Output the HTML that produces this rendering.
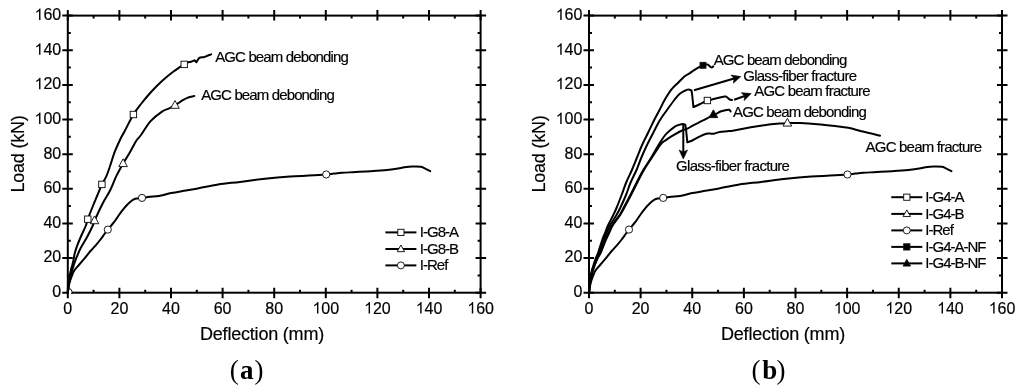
<!DOCTYPE html><html><head><meta charset="utf-8"><style>
html,body{margin:0;padding:0;background:#fff;}
svg{display:block;will-change:transform;}
text{font-family:"Liberation Sans",sans-serif;fill:#000;stroke:#000;stroke-width:0.18px;}
.tk{font-size:16px;}
.tt{font-size:18px;letter-spacing:-0.2px;}
.an{font-size:15px;letter-spacing:-0.87px;}
.gl{letter-spacing:-0.72px !important;}
.fr{letter-spacing:-0.8px !important;}
.lg{font-size:15px;letter-spacing:-1.0px;}
.pl{font-family:"Liberation Serif",serif;font-weight:bold;font-size:27px;stroke-width:0;}
</style></head><body>
<svg width="1024" height="392" viewBox="0 0 1024 392">
<rect width="1024" height="392" fill="#fff"/>
<rect x="67.8" y="15.6" width="412.8" height="277.1" fill="none" stroke="#000" stroke-width="2.0"/>
<path d="M67.8 287.7V298.2M67.8 10.1V20.6M93.6 289.7V292.7M93.6 15.6V18.6M119.4 287.7V298.2M119.4 10.1V20.6M145.2 289.7V292.7M145.2 15.6V18.6M171 287.7V298.2M171 10.1V20.6M196.8 289.7V292.7M196.8 15.6V18.6M222.6 287.7V298.2M222.6 10.1V20.6M248.4 289.7V292.7M248.4 15.6V18.6M274.2 287.7V298.2M274.2 10.1V20.6M300 289.7V292.7M300 15.6V18.6M325.8 287.7V298.2M325.8 10.1V20.6M351.6 289.7V292.7M351.6 15.6V18.6M377.4 287.7V298.2M377.4 10.1V20.6M403.2 289.7V292.7M403.2 15.6V18.6M429 287.7V298.2M429 10.1V20.6M454.8 289.7V292.7M454.8 15.6V18.6M480.6 287.7V298.2M480.6 10.1V20.6M62.3 292.7H72.8M475.6 292.7H486.1M67.8 275.38H70.8M477.6 275.38H480.6M62.3 258.06H72.8M475.6 258.06H486.1M67.8 240.74H70.8M477.6 240.74H480.6M62.3 223.43H72.8M475.6 223.43H486.1M67.8 206.11H70.8M477.6 206.11H480.6M62.3 188.79H72.8M475.6 188.79H486.1M67.8 171.47H70.8M477.6 171.47H480.6M62.3 154.15H72.8M475.6 154.15H486.1M67.8 136.83H70.8M477.6 136.83H480.6M62.3 119.51H72.8M475.6 119.51H486.1M67.8 102.19H70.8M477.6 102.19H480.6M62.3 84.88H72.8M475.6 84.88H486.1M67.8 67.56H70.8M477.6 67.56H480.6M62.3 50.24H72.8M475.6 50.24H486.1M67.8 32.92H70.8M477.6 32.92H480.6M62.3 15.6H72.8M475.6 15.6H486.1" stroke="#000" stroke-width="2.0" fill="none"/>
<text x="63.35" y="313.5" class="tk">0</text>
<text x="52.3" y="297.1" class="tk">0</text>
<text x="110.5" y="313.5" class="tk">2</text><text x="119.4" y="313.5" class="tk">0</text>
<text x="43.4" y="262.46" class="tk">2</text><text x="52.3" y="262.46" class="tk">0</text>
<text x="162.1" y="313.5" class="tk">4</text><text x="171" y="313.5" class="tk">0</text>
<text x="43.4" y="227.83" class="tk">4</text><text x="52.3" y="227.83" class="tk">0</text>
<text x="213.7" y="313.5" class="tk">6</text><text x="222.6" y="313.5" class="tk">0</text>
<text x="43.4" y="193.19" class="tk">6</text><text x="52.3" y="193.19" class="tk">0</text>
<text x="265.3" y="313.5" class="tk">8</text><text x="274.2" y="313.5" class="tk">0</text>
<text x="43.4" y="158.55" class="tk">8</text><text x="52.3" y="158.55" class="tk">0</text>
<path d="M763 0H583V1147Q518 1085 412.5 1023T223 930V1104Q374 1175 487 1276T647 1472H763V0Z" transform="translate(312.45 313.5) scale(0.007812 -0.007812)"/><text x="321.35" y="313.5" class="tk">0</text><text x="330.25" y="313.5" class="tk">0</text>
<path d="M763 0H583V1147Q518 1085 412.5 1023T223 930V1104Q374 1175 487 1276T647 1472H763V0Z" transform="translate(34.5 123.91) scale(0.007812 -0.007812)"/><text x="43.4" y="123.91" class="tk">0</text><text x="52.3" y="123.91" class="tk">0</text>
<path d="M763 0H583V1147Q518 1085 412.5 1023T223 930V1104Q374 1175 487 1276T647 1472H763V0Z" transform="translate(364.05 313.5) scale(0.007812 -0.007812)"/><text x="372.95" y="313.5" class="tk">2</text><text x="381.85" y="313.5" class="tk">0</text>
<path d="M763 0H583V1147Q518 1085 412.5 1023T223 930V1104Q374 1175 487 1276T647 1472H763V0Z" transform="translate(34.5 89.28) scale(0.007812 -0.007812)"/><text x="43.4" y="89.28" class="tk">2</text><text x="52.3" y="89.28" class="tk">0</text>
<path d="M763 0H583V1147Q518 1085 412.5 1023T223 930V1104Q374 1175 487 1276T647 1472H763V0Z" transform="translate(415.65 313.5) scale(0.007812 -0.007812)"/><text x="424.55" y="313.5" class="tk">4</text><text x="433.45" y="313.5" class="tk">0</text>
<path d="M763 0H583V1147Q518 1085 412.5 1023T223 930V1104Q374 1175 487 1276T647 1472H763V0Z" transform="translate(34.5 54.64) scale(0.007812 -0.007812)"/><text x="43.4" y="54.64" class="tk">4</text><text x="52.3" y="54.64" class="tk">0</text>
<path d="M763 0H583V1147Q518 1085 412.5 1023T223 930V1104Q374 1175 487 1276T647 1472H763V0Z" transform="translate(467.25 313.5) scale(0.007812 -0.007812)"/><text x="476.15" y="313.5" class="tk">6</text><text x="485.05" y="313.5" class="tk">0</text>
<path d="M763 0H583V1147Q518 1085 412.5 1023T223 930V1104Q374 1175 487 1276T647 1472H763V0Z" transform="translate(34.5 20) scale(0.007812 -0.007812)"/><text x="43.4" y="20" class="tk">6</text><text x="52.3" y="20" class="tk">0</text>
<clipPath id="ca"><rect x="68.6" y="15" width="412" height="278.9"/></clipPath>
<g clip-path="url(#ca)"><circle cx="68.6" cy="292" r="3.5" fill="#fff" stroke="#111" stroke-width="0.95"/></g>
<path d="M67.8 292.7C67.93 291.75 68.32 288.62 68.6 287C68.88 285.38 69.12 284.42 69.5 283C69.88 281.58 70.45 279.8 70.9 278.5C71.35 277.2 71.65 276.52 72.2 275.2C72.75 273.88 73.02 272.38 74.2 270.6C75.38 268.82 77.43 266.72 79.3 264.5C81.17 262.28 83.53 259.55 85.4 257.3C87.27 255.05 88.82 252.95 90.5 251C92.18 249.05 93.9 247.43 95.5 245.6C97.1 243.77 98.6 241.93 100.1 240C101.6 238.07 103.22 235.73 104.5 234C105.78 232.27 106.18 231.62 107.8 229.6C109.42 227.58 112.33 224.33 114.2 221.9C116.07 219.47 117.3 217.33 119 215C120.7 212.67 122.73 209.9 124.4 207.9C126.07 205.9 127.52 204.38 129 203C130.48 201.62 132.05 200.35 133.3 199.6C134.55 198.85 135.05 198.78 136.5 198.5C137.95 198.22 139.75 198.18 142 197.9C144.25 197.62 147.21 197.12 150 196.8C152.79 196.48 155.21 196.62 158.75 196C162.29 195.38 167.04 193.97 171.25 193.1C175.46 192.23 179.57 191.58 184 190.8C188.43 190.02 192.12 189.45 197.8 188.4C203.48 187.35 211.07 185.58 218.1 184.5C225.13 183.42 232.18 182.86 240 181.9C247.82 180.94 256.67 179.65 265 178.75C273.33 177.85 282.71 177.03 290 176.5C297.29 175.97 302.71 175.93 308.75 175.6C314.79 175.27 322.04 174.83 326.25 174.5C330.46 174.17 331.34 173.88 334 173.6C336.66 173.32 339.12 173.03 342.2 172.8C345.28 172.57 348.58 172.42 352.5 172.2C356.42 171.98 361.78 171.73 365.7 171.5C369.62 171.27 372.1 171.1 376 170.8C379.9 170.5 385.43 170.08 389.1 169.7C392.77 169.32 395.45 168.9 398 168.5C400.55 168.1 401.97 167.62 404.4 167.3C406.83 166.98 409.87 166.68 412.6 166.6C415.33 166.52 418.85 166.55 420.8 166.8C422.75 167.05 422.73 167.37 424.3 168.1C425.87 168.83 429.22 170.68 430.2 171.2" fill="none" stroke="#000" stroke-width="2.0" stroke-linejoin="round" stroke-linecap="round"/>
<path d="M67.8 292.7C67.92 291.75 68.25 288.78 68.5 287C68.75 285.22 68.95 283.83 69.3 282C69.65 280.17 70.12 278 70.6 276C71.08 274 71.67 271.83 72.2 270C72.73 268.17 73.3 266.5 73.8 265C74.3 263.5 74.67 262.45 75.2 261C75.73 259.55 76.08 258.47 77 256.3C77.92 254.13 79.02 251.22 80.7 248C82.38 244.78 85.12 240.67 87.1 237C89.08 233.33 91.37 228.67 92.6 226C93.83 223.33 93.52 223.33 94.5 221C95.48 218.67 96.92 215.33 98.5 212C100.08 208.67 102.03 204.67 104 201C105.97 197.33 108.23 194.18 110.3 190C112.37 185.82 114.28 180.28 116.4 175.9C118.52 171.52 120.82 167.52 123 163.7C125.18 159.88 127.28 156.83 129.5 153C131.72 149.17 134.38 143.7 136.3 140.7C138.22 137.7 138.62 138.25 141 135C143.38 131.75 147.1 125.1 150.6 121.2C154.1 117.3 158.82 113.77 162 111.6C165.18 109.43 167.53 109.27 169.7 108.2C171.87 107.13 173.62 106 175 105.2C176.38 104.4 176.7 104.23 178 103.4C179.3 102.57 181.15 101.17 182.8 100.2C184.45 99.23 186.52 98.17 187.9 97.6C189.28 97.03 190.03 97.07 191.1 96.8C192.17 96.53 193.77 96.13 194.3 96" fill="none" stroke="#000" stroke-width="2.0" stroke-linejoin="round" stroke-linecap="round"/>
<path d="M67.8 292.7C67.88 291.75 68.13 288.78 68.3 287C68.47 285.22 68.57 283.83 68.8 282C69.03 280.17 69.35 278 69.7 276C70.05 274 70.47 271.83 70.9 270C71.33 268.17 71.87 266.67 72.3 265C72.73 263.33 73.1 261.92 73.5 260C73.9 258.08 74.12 255.8 74.7 253.5C75.28 251.2 76 248.95 77 246.2C78 243.45 79.25 240.37 80.7 237C82.15 233.63 84.52 228.97 85.7 226C86.88 223.03 86.67 222.37 87.8 219.2C88.93 216.03 90.88 211.03 92.5 207C94.12 202.97 95.93 198.77 97.5 195C99.07 191.23 100.4 187.58 101.9 184.4C103.4 181.22 105.1 179.1 106.5 175.9C107.9 172.7 108.9 169.28 110.3 165.2C111.7 161.12 113.23 155.73 114.9 151.4C116.57 147.07 118.7 142.52 120.3 139.2C121.9 135.88 122.32 135.62 124.5 131.5C126.68 127.38 130.65 119.08 133.4 114.5C136.15 109.92 138.13 107.67 141 104C143.87 100.33 147.1 96.33 150.6 92.5C154.1 88.67 158.18 84.5 162 81C165.82 77.5 169.8 74.27 173.5 71.5C177.2 68.73 181.77 65.95 184.2 64.4C186.63 62.85 186.98 62.63 188.1 62.2C189.22 61.77 189.83 62.12 190.9 61.8C191.97 61.48 193.9 60.55 194.5 60.3C194.82 60.62 196.08 61.88 196.4 62.2C196.9 61.47 198.18 58.63 199.4 57.8C200.62 56.97 202.37 57.55 203.7 57.2C205.03 56.85 206.17 56.17 207.4 55.7C208.63 55.23 210.48 54.62 211.1 54.4" fill="none" stroke="#000" stroke-width="2.0" stroke-linejoin="round" stroke-linecap="round"/>
<circle cx="107.8" cy="229.6" r="3.6" fill="#fff" stroke="#111" stroke-width="0.95"/>
<circle cx="142" cy="197.9" r="3.6" fill="#fff" stroke="#111" stroke-width="0.95"/>
<circle cx="326.25" cy="174.5" r="3.6" fill="#fff" stroke="#111" stroke-width="0.95"/>
<path d="M94.5 215.96L98.8 223.7L90.2 223.7Z" fill="#fff" stroke="#111" stroke-width="0.95"/>
<path d="M123.1 158.86L127.4 166.6L118.8 166.6Z" fill="#fff" stroke="#111" stroke-width="0.95"/>
<path d="M175 100.56L179.3 108.3L170.7 108.3Z" fill="#fff" stroke="#111" stroke-width="0.95"/>
<rect x="84.6" y="216" width="6.4" height="6.4" fill="#fff" stroke="#111" stroke-width="0.95"/>
<rect x="98.7" y="181.2" width="6.4" height="6.4" fill="#fff" stroke="#111" stroke-width="0.95"/>
<rect x="130.2" y="111.3" width="6.4" height="6.4" fill="#fff" stroke="#111" stroke-width="0.95"/>
<rect x="181" y="61.2" width="6.4" height="6.4" fill="#fff" stroke="#111" stroke-width="0.95"/>
<text x="215.2" y="61.8" class="an">AGC beam debonding</text>
<text x="201.2" y="100.1" class="an">AGC beam debonding</text>
<path d="M385.4 232.4H416.4" stroke="#000" stroke-width="2"/><rect x="397.8" y="229.3" width="6.2" height="6.2" fill="#fff" stroke="#111" stroke-width="0.95"/><text x="419.8" y="237.2" class="lg">I-G8-A</text>
<path d="M385.4 249H416.4" stroke="#000" stroke-width="2"/><path d="M400.9 245L404.6 251.66L397.2 251.66Z" fill="#fff" stroke="#111" stroke-width="0.95"/><text x="419.8" y="253.8" class="lg">I-G8-B</text>
<path d="M385.4 265.4H416.4" stroke="#000" stroke-width="2"/><circle cx="400.9" cy="265.4" r="3.5" fill="#fff" stroke="#111" stroke-width="0.95"/><text x="419.8" y="270.2" class="lg">I-Ref</text>
<text x="24" y="154" text-anchor="middle" class="tt" transform="rotate(-90 24 154)" dy="0">Load (kN)</text>
<text x="262" y="340.1" text-anchor="middle" class="tt">Deflection (mm)</text>
<text y="379" class="pl"><tspan x="229.7" font-weight="normal">(</tspan><tspan x="239.9">a</tspan><tspan x="254.4" font-weight="normal">)</tspan></text>
<rect x="589" y="15.6" width="413" height="277.1" fill="none" stroke="#000" stroke-width="2.0"/>
<path d="M589 287.7V298.2M589 10.1V20.6M614.81 289.7V292.7M614.81 15.6V18.6M640.62 287.7V298.2M640.62 10.1V20.6M666.44 289.7V292.7M666.44 15.6V18.6M692.25 287.7V298.2M692.25 10.1V20.6M718.06 289.7V292.7M718.06 15.6V18.6M743.88 287.7V298.2M743.88 10.1V20.6M769.69 289.7V292.7M769.69 15.6V18.6M795.5 287.7V298.2M795.5 10.1V20.6M821.31 289.7V292.7M821.31 15.6V18.6M847.12 287.7V298.2M847.12 10.1V20.6M872.94 289.7V292.7M872.94 15.6V18.6M898.75 287.7V298.2M898.75 10.1V20.6M924.56 289.7V292.7M924.56 15.6V18.6M950.38 287.7V298.2M950.38 10.1V20.6M976.19 289.7V292.7M976.19 15.6V18.6M1002 287.7V298.2M1002 10.1V20.6M583.5 292.7H594M997 292.7H1007.5M589 275.38H592M999 275.38H1002M583.5 258.06H594M997 258.06H1007.5M589 240.74H592M999 240.74H1002M583.5 223.43H594M997 223.43H1007.5M589 206.11H592M999 206.11H1002M583.5 188.79H594M997 188.79H1007.5M589 171.47H592M999 171.47H1002M583.5 154.15H594M997 154.15H1007.5M589 136.83H592M999 136.83H1002M583.5 119.51H594M997 119.51H1007.5M589 102.19H592M999 102.19H1002M583.5 84.88H594M997 84.88H1007.5M589 67.56H592M999 67.56H1002M583.5 50.24H594M997 50.24H1007.5M589 32.92H592M999 32.92H1002M583.5 15.6H594M997 15.6H1007.5" stroke="#000" stroke-width="2.0" fill="none"/>
<text x="584.55" y="313.5" class="tk">0</text>
<text x="573.5" y="297.1" class="tk">0</text>
<text x="631.73" y="313.5" class="tk">2</text><text x="640.62" y="313.5" class="tk">0</text>
<text x="564.6" y="262.46" class="tk">2</text><text x="573.5" y="262.46" class="tk">0</text>
<text x="683.35" y="313.5" class="tk">4</text><text x="692.25" y="313.5" class="tk">0</text>
<text x="564.6" y="227.83" class="tk">4</text><text x="573.5" y="227.83" class="tk">0</text>
<text x="734.98" y="313.5" class="tk">6</text><text x="743.88" y="313.5" class="tk">0</text>
<text x="564.6" y="193.19" class="tk">6</text><text x="573.5" y="193.19" class="tk">0</text>
<text x="786.6" y="313.5" class="tk">8</text><text x="795.5" y="313.5" class="tk">0</text>
<text x="564.6" y="158.55" class="tk">8</text><text x="573.5" y="158.55" class="tk">0</text>
<path d="M763 0H583V1147Q518 1085 412.5 1023T223 930V1104Q374 1175 487 1276T647 1472H763V0Z" transform="translate(833.78 313.5) scale(0.007812 -0.007812)"/><text x="842.68" y="313.5" class="tk">0</text><text x="851.57" y="313.5" class="tk">0</text>
<path d="M763 0H583V1147Q518 1085 412.5 1023T223 930V1104Q374 1175 487 1276T647 1472H763V0Z" transform="translate(555.7 123.91) scale(0.007812 -0.007812)"/><text x="564.6" y="123.91" class="tk">0</text><text x="573.5" y="123.91" class="tk">0</text>
<path d="M763 0H583V1147Q518 1085 412.5 1023T223 930V1104Q374 1175 487 1276T647 1472H763V0Z" transform="translate(885.4 313.5) scale(0.007812 -0.007812)"/><text x="894.3" y="313.5" class="tk">2</text><text x="903.2" y="313.5" class="tk">0</text>
<path d="M763 0H583V1147Q518 1085 412.5 1023T223 930V1104Q374 1175 487 1276T647 1472H763V0Z" transform="translate(555.7 89.28) scale(0.007812 -0.007812)"/><text x="564.6" y="89.28" class="tk">2</text><text x="573.5" y="89.28" class="tk">0</text>
<path d="M763 0H583V1147Q518 1085 412.5 1023T223 930V1104Q374 1175 487 1276T647 1472H763V0Z" transform="translate(937.03 313.5) scale(0.007812 -0.007812)"/><text x="945.93" y="313.5" class="tk">4</text><text x="954.82" y="313.5" class="tk">0</text>
<path d="M763 0H583V1147Q518 1085 412.5 1023T223 930V1104Q374 1175 487 1276T647 1472H763V0Z" transform="translate(555.7 54.64) scale(0.007812 -0.007812)"/><text x="564.6" y="54.64" class="tk">4</text><text x="573.5" y="54.64" class="tk">0</text>
<path d="M763 0H583V1147Q518 1085 412.5 1023T223 930V1104Q374 1175 487 1276T647 1472H763V0Z" transform="translate(988.65 313.5) scale(0.007812 -0.007812)"/><text x="997.55" y="313.5" class="tk">6</text><text x="1006.45" y="313.5" class="tk">0</text>
<path d="M763 0H583V1147Q518 1085 412.5 1023T223 930V1104Q374 1175 487 1276T647 1472H763V0Z" transform="translate(555.7 20) scale(0.007812 -0.007812)"/><text x="564.6" y="20" class="tk">6</text><text x="573.5" y="20" class="tk">0</text>
<clipPath id="cb"><rect x="589.8" y="15" width="412" height="278.9"/></clipPath>
<path d="M589 292.7C589.13 291.75 589.52 288.62 589.8 287C590.08 285.38 590.32 284.42 590.7 283C591.08 281.58 591.65 279.8 592.1 278.5C592.55 277.2 592.85 276.52 593.4 275.2C593.95 273.88 594.22 272.38 595.4 270.6C596.58 268.82 598.63 266.72 600.5 264.5C602.37 262.28 604.73 259.55 606.6 257.3C608.47 255.05 610.02 252.95 611.7 251C613.38 249.05 615.1 247.43 616.7 245.6C618.3 243.77 619.8 241.93 621.3 240C622.8 238.07 624.42 235.73 625.7 234C626.98 232.27 627.38 231.62 629 229.6C630.62 227.58 633.53 224.33 635.4 221.9C637.27 219.47 638.5 217.33 640.2 215C641.9 212.67 643.93 209.9 645.6 207.9C647.27 205.9 648.72 204.38 650.2 203C651.68 201.62 653.25 200.35 654.5 199.6C655.75 198.85 656.25 198.78 657.7 198.5C659.15 198.22 660.95 198.18 663.2 197.9C665.45 197.62 668.41 197.12 671.2 196.8C673.99 196.48 676.41 196.62 679.95 196C683.49 195.38 688.24 193.97 692.45 193.1C696.66 192.23 700.78 191.58 705.2 190.8C709.62 190.02 713.32 189.45 719 188.4C724.68 187.35 732.27 185.58 739.3 184.5C746.33 183.42 753.38 182.86 761.2 181.9C769.02 180.94 777.87 179.65 786.2 178.75C794.53 177.85 803.91 177.03 811.2 176.5C818.49 175.97 823.91 175.93 829.95 175.6C835.99 175.27 843.24 174.83 847.45 174.5C851.66 174.17 852.54 173.88 855.2 173.6C857.86 173.32 860.32 173.03 863.4 172.8C866.48 172.57 869.78 172.42 873.7 172.2C877.62 171.98 882.98 171.73 886.9 171.5C890.82 171.27 893.3 171.1 897.2 170.8C901.1 170.5 906.63 170.08 910.3 169.7C913.97 169.32 916.65 168.9 919.2 168.5C921.75 168.1 923.17 167.62 925.6 167.3C928.03 166.98 931.07 166.68 933.8 166.6C936.53 166.52 940.05 166.55 942 166.8C943.95 167.05 943.93 167.37 945.5 168.1C947.07 168.83 950.42 170.68 951.4 171.2" fill="none" stroke="#000" stroke-width="2.0" stroke-linejoin="round" stroke-linecap="round"/>
<path d="M589 292.7C589.08 291.75 589.28 288.95 589.5 287C589.72 285.05 589.97 283 590.3 281C590.63 279 591.08 276.83 591.5 275C591.92 273.17 592.32 271.58 592.8 270C593.28 268.42 593.7 267.33 594.4 265.5C595.1 263.67 595.98 261.17 597 259C598.02 256.83 599.13 255.67 600.5 252.5C601.87 249.33 603.87 243.25 605.2 240C606.53 236.75 607.32 235.5 608.5 233C609.68 230.5 610.45 228 612.3 225C614.15 222 617.73 217.83 619.6 215C621.47 212.17 621.7 211.33 623.5 208C625.3 204.67 628.2 199.25 630.4 195C632.6 190.75 634.55 186.67 636.7 182.5C638.85 178.33 640.87 174.17 643.3 170C645.73 165.83 648.77 161.67 651.3 157.5C653.83 153.33 656.18 148.75 658.5 145C660.82 141.25 663.2 137.5 665.2 135C667.2 132.5 668.88 131.4 670.5 130C672.12 128.6 673.65 127.4 674.9 126.6C676.15 125.8 677.08 125.55 678 125.2C678.92 124.85 679.55 124.72 680.4 124.5C681.25 124.28 682.28 123.83 683.1 123.9C683.92 123.97 684.93 124.73 685.3 124.9C685.45 125.92 685.87 128.1 686.2 131C686.53 133.9 687.12 140.42 687.3 142.3C688.13 142 690.18 141.5 692.3 140.5C694.42 139.5 697.67 137.42 700 136.3C702.33 135.18 704.63 134.25 706.3 133.8C707.97 133.35 708.72 133.62 710 133.6C711.28 133.58 712.38 133.98 714 133.7C715.62 133.42 717.47 132.32 719.7 131.9C721.93 131.48 725.02 131.45 727.4 131.2C729.78 130.95 730.32 131 734 130.4C737.68 129.8 743.67 128.58 749.5 127.6C755.33 126.62 763.4 125.2 769 124.5C774.6 123.8 780.03 123.65 783.1 123.4C786.17 123.15 784.53 123.05 787.4 123C790.27 122.95 795.27 122.9 800.3 123.1C805.33 123.3 811.8 123.72 817.6 124.2C823.4 124.68 829.98 125.42 835.1 126C840.22 126.58 843.9 126.82 848.3 127.7C852.7 128.58 857.83 130.37 861.5 131.3C865.17 132.23 867.22 132.57 870.3 133.3C873.38 134.03 878.38 135.3 880 135.7" fill="none" stroke="#000" stroke-width="2.0" stroke-linejoin="round" stroke-linecap="round"/>
<path d="M589.2 292.7C589.28 291.75 589.48 288.95 589.7 287C589.92 285.05 590.17 283 590.5 281C590.83 279 591.28 276.83 591.7 275C592.12 273.17 592.52 271.58 593 270C593.48 268.42 593.9 267.33 594.6 265.5C595.3 263.67 596.18 261.17 597.2 259C598.22 256.83 599.27 255.67 600.7 252.5C602.13 249.33 604.4 243.25 605.8 240C607.2 236.75 607.92 235.5 609.1 233C610.28 230.5 611.05 228 612.9 225C614.75 222 618.33 217.83 620.2 215C622.07 212.17 622.3 211.33 624.1 208C625.9 204.67 628.8 199.25 631 195C633.2 190.75 635.15 186.67 637.3 182.5C639.45 178.33 641.47 174.17 643.9 170C646.33 165.83 649.13 161.73 651.9 157.5C654.67 153.27 658.4 147.35 660.5 144.6C662.6 141.85 663.13 142.07 664.5 141C665.87 139.93 667.05 139.25 668.7 138.2C670.35 137.15 672.52 135.82 674.4 134.7C676.28 133.58 678.47 132.3 680 131.5C681.53 130.7 682.27 130.42 683.6 129.9C684.93 129.38 686.42 129.15 688 128.4C689.58 127.65 690.85 126.6 693.1 125.4C695.35 124.2 699.17 122.37 701.5 121.2C703.83 120.03 705.12 119.52 707.1 118.4C709.08 117.28 711.82 115.28 713.4 114.5C714.98 113.72 715.43 114.2 716.6 113.7C717.77 113.2 718.92 112.08 720.4 111.5C721.88 110.92 724.02 110.5 725.5 110.2C726.98 109.9 728.45 109.48 729.3 109.7C730.15 109.92 730.38 111.2 730.6 111.5" fill="none" stroke="#000" stroke-width="2.0" stroke-linejoin="round" stroke-linecap="round"/>
<path d="M589 292.7C589.07 291.75 589.22 288.95 589.4 287C589.58 285.05 589.8 283 590.1 281C590.4 279 590.82 276.83 591.2 275C591.58 273.17 591.95 271.58 592.4 270C592.85 268.42 593.27 267.33 593.9 265.5C594.53 263.67 595.32 261.17 596.2 259C597.08 256.83 597.97 255.67 599.2 252.5C600.43 249.33 602.37 243.25 603.6 240C604.83 236.75 605.5 235.5 606.6 233C607.7 230.5 608.55 228 610.2 225C611.85 222 614.83 217.83 616.5 215C618.17 212.17 618.62 211.33 620.2 208C621.78 204.67 624.27 199.25 626 195C627.73 190.75 628.85 186.67 630.6 182.5C632.35 178.33 634.7 174.17 636.5 170C638.3 165.83 639.65 161.67 641.4 157.5C643.15 153.33 645 149.17 647 145C649 140.83 651.23 136.67 653.4 132.5C655.57 128.33 657.73 123.75 660 120C662.27 116.25 664.62 113.33 667 110C669.38 106.67 672.27 102.63 674.3 100C676.33 97.37 677.52 95.7 679.2 94.2C680.88 92.7 682.87 91.77 684.4 91C685.93 90.23 687.22 89.68 688.4 89.6C689.58 89.52 690.98 90.35 691.5 90.5C691.63 91.42 691.98 93.23 692.3 96C692.62 98.77 693.22 105.25 693.4 107.1C694.35 106.67 697.3 105.35 699.1 104.5C700.9 103.65 702.82 102.67 704.2 102C705.58 101.33 705.48 101.1 707.4 100.5C709.32 99.9 712.83 99.05 715.7 98.4C718.57 97.75 722.8 96.87 724.6 96.6C726.4 96.33 725.68 96.35 726.5 96.8C727.32 97.25 728.58 98.77 729.5 99.3C730.42 99.83 731.58 99.88 732 100" fill="none" stroke="#000" stroke-width="2.0" stroke-linejoin="round" stroke-linecap="round"/>
<path d="M589 292.7C589.05 291.75 589.15 288.95 589.3 287C589.45 285.05 589.63 283 589.9 281C590.17 279 590.55 276.83 590.9 275C591.25 273.17 591.58 271.58 592 270C592.42 268.42 592.82 267.33 593.4 265.5C593.98 263.67 594.7 261.17 595.5 259C596.3 256.83 597.08 255.67 598.2 252.5C599.32 249.33 601.07 243.25 602.2 240C603.33 236.75 604 235.5 605 233C606 230.5 606.82 228 608.2 225C609.58 222 611.92 217.83 613.3 215C614.68 212.17 615.12 211.33 616.5 208C617.88 204.67 619.98 199.25 621.6 195C623.22 190.75 624.48 186.67 626.2 182.5C627.92 178.33 630.1 174.17 631.9 170C633.7 165.83 635.3 161.67 637 157.5C638.7 153.33 640.23 149.17 642.1 145C643.97 140.83 646.18 136.67 648.2 132.5C650.22 128.33 652.32 123.75 654.2 120C656.08 116.25 657.77 113.33 659.5 110C661.23 106.67 662.6 103.43 664.6 100C666.6 96.57 669.2 92.32 671.5 89.4C673.8 86.48 676.25 84.65 678.4 82.5C680.55 80.35 682.55 78.03 684.4 76.5C686.25 74.97 687.8 74.4 689.5 73.3C691.2 72.2 693.07 70.9 694.6 69.9C696.13 68.9 697.3 68.07 698.7 67.3C700.1 66.53 701.78 65.75 703 65.3C704.22 64.85 705.17 64.72 706 64.6C706.83 64.48 707.43 64.37 708 64.6C708.57 64.83 708.82 65.53 709.4 66C709.98 66.47 710.85 67.33 711.5 67.4C712.15 67.47 713 66.57 713.3 66.4" fill="none" stroke="#000" stroke-width="2.0" stroke-linejoin="round" stroke-linecap="round"/>
<circle cx="629" cy="229.6" r="3.6" fill="#fff" stroke="#111" stroke-width="0.95"/>
<circle cx="663.2" cy="197.9" r="3.6" fill="#fff" stroke="#111" stroke-width="0.95"/>
<circle cx="847.45" cy="174.5" r="3.6" fill="#fff" stroke="#111" stroke-width="0.95"/>
<rect x="704.2" y="97.3" width="6.4" height="6.4" fill="#fff" stroke="#111" stroke-width="0.95"/>
<path d="M787.4 118.36L791.7 126.1L783.1 126.1Z" fill="#fff" stroke="#111" stroke-width="0.95"/>
<rect x="700.05" y="62.35" width="5.9" height="5.9" fill="#000" stroke="#111" stroke-width="0.95"/>
<path d="M713.4 109.86L717.7 117.6L709.1 117.6Z" fill="#000" stroke="#111" stroke-width="0.95"/>
<path d="M694 90.3L734.08 78.57" stroke="#000" stroke-width="2" fill="none"/><path d="M740.8 76.6L733.34 83.16L734.08 78.57L730.98 75.1Z" fill="#000" stroke="#000" stroke-width="0.6" stroke-linejoin="round"/>
<path d="M734.1 99.7L744.61 95.95" stroke="#000" stroke-width="2" fill="none"/><path d="M751.2 93.6L744.13 100.58L744.61 95.95L741.31 92.67Z" fill="#000" stroke="#000" stroke-width="0.6" stroke-linejoin="round"/>
<path d="M683.3 124.7L683.3 152" stroke="#000" stroke-width="2" fill="none"/><path d="M683.3 159L679.1 150L683.3 152L687.5 150Z" fill="#000" stroke="#000" stroke-width="0.6" stroke-linejoin="round"/>
<text x="713.7" y="64.6" class="an">AGC beam debonding</text>
<text x="743.2" y="80.7" class="an gl">Glass-fiber fracture</text>
<text x="754.2" y="96.3" class="an fr">AGC beam fracture</text>
<text x="733.1" y="117.1" class="an">AGC beam debonding</text>
<text x="676.1" y="171.2" class="an gl">Glass-fiber fracture</text>
<text x="865.6" y="152.1" class="an fr">AGC beam fracture</text>
<path d="M891.3 197.2H922.3" stroke="#000" stroke-width="2"/><rect x="903.7" y="194.1" width="6.2" height="6.2" fill="#fff" stroke="#111" stroke-width="0.95"/><text x="925.3" y="202" class="lg">I-G4-A</text>
<path d="M891.3 213.9H922.3" stroke="#000" stroke-width="2"/><path d="M906.8 209.9L910.5 216.56L903.1 216.56Z" fill="#fff" stroke="#111" stroke-width="0.95"/><text x="925.3" y="218.7" class="lg">I-G4-B</text>
<path d="M891.3 230.4H922.3" stroke="#000" stroke-width="2"/><circle cx="906.8" cy="230.4" r="3.5" fill="#fff" stroke="#111" stroke-width="0.95"/><text x="925.3" y="235.2" class="lg">I-Ref</text>
<path d="M891.3 246.9H922.3" stroke="#000" stroke-width="2"/><rect x="903.7" y="243.8" width="6.2" height="6.2" fill="#000" stroke="#111" stroke-width="0.95"/><text x="925.3" y="251.7" class="lg">I-G4-A-NF</text>
<path d="M891.3 263.4H922.3" stroke="#000" stroke-width="2"/><path d="M906.8 259.4L910.5 266.06L903.1 266.06Z" fill="#000" stroke="#111" stroke-width="0.95"/><text x="925.3" y="268.2" class="lg">I-G4-B-NF</text>
<text x="545.2" y="154" text-anchor="middle" class="tt" transform="rotate(-90 545.2 154)">Load (kN)</text>
<text x="783" y="340.1" text-anchor="middle" class="tt">Deflection (mm)</text>
<text y="379" class="pl"><tspan x="751.5" font-weight="normal">(</tspan><tspan x="762.3">b</tspan><tspan x="776.6" font-weight="normal">)</tspan></text>
</svg></body></html>
